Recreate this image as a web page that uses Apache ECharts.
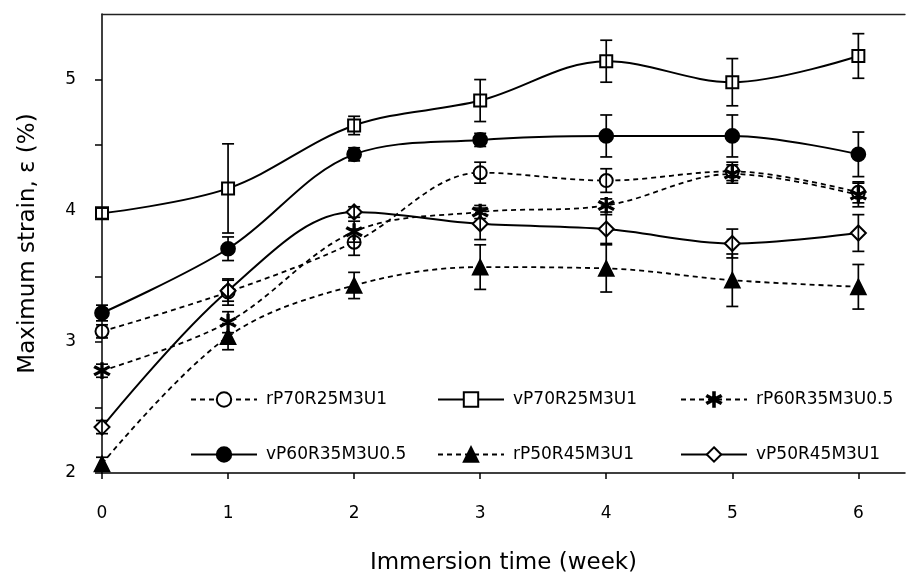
<!DOCTYPE html>
<html>
<head>
<meta charset="utf-8">
<script src="https://cdn.jsdelivr.net/npm/echarts@6/dist/echarts.min.js"></script>
<style>
  html, body { margin: 0; padding: 0; background: #fff; }
  #chart { width: 912px; height: 575px; }
</style>
</head>
<body>
<div id="chart"></div>
<script>
// Immersion time (weeks)
const weeks = [0, 1, 2, 3, 4, 5, 6];
const xTicks = [0, 1, 2, 3, 4, 5, 6];

// Mean maximum strain (%) for each mix
const rP70R25M3U1   = [3.08, 3.38, 3.76, 4.29, 4.23, 4.30, 4.14];
const vP70R25M3U1   = [3.98, 4.17, 4.65, 4.84, 5.14, 4.98, 5.18];
const rP60R35M3U0_5 = [2.78, 3.15, 3.84, 3.99, 4.04, 4.28, 4.12];
const vP60R35M3U0_5 = [3.22, 3.71, 4.43, 4.54, 4.57, 4.57, 4.43];
const rP50R45M3U1   = [2.07, 3.04, 3.43, 3.57, 3.56, 3.47, 3.42];
const vP50R45M3U1   = [2.35, 3.39, 3.99, 3.90, 3.86, 3.75, 3.83];

// Standard deviations (error bars)
const rP70R25M3U1_sd   = [0.05, 0.10, 0.10, 0.08, 0.09, 0.07, 0.08];
const vP70R25M3U1_sd   = [0.04, 0.34, 0.07, 0.16, 0.16, 0.18, 0.17];
const rP60R35M3U0_5_sd = [0.05, 0.08, 0.08, 0.05, 0.05, 0.07, 0.09];
const vP60R35M3U0_5_sd = [0.06, 0.09, 0.05, 0.05, 0.16, 0.16, 0.17];
const rP50R45M3U1_sd   = [0.05, 0.10, 0.10, 0.17, 0.18, 0.20, 0.17];
const vP50R45M3U1_sd   = [0.05, 0.08, 0.04, 0.12, 0.11, 0.11, 0.14];

const FONT = 'DejaVu Sans';
const INK = '#000';

// six-armed asterisk marker
const asterisk = 'path://M9,0L11,0L11,20L9,20Z' +
  'M1.84,4.13L19.16,14.13L18.16,15.87L0.84,5.87Z' +
  'M19.16,5.87L1.84,15.87L0.84,14.13L18.16,4.13Z';

const mixes = [
  { name: 'rP70R25M3U1',   y: rP70R25M3U1,   sd: rP70R25M3U1_sd,   dashed: true,  symbol: 'emptyCircle',   size: 13, left: 190, top: 1 },
  { name: 'vP70R25M3U1',   y: vP70R25M3U1,   sd: vP70R25M3U1_sd,   dashed: false, symbol: 'emptyRect',     size: 12, left: 437, top: 1 },
  { name: 'rP60R35M3U0.5', y: rP60R35M3U0_5, sd: rP60R35M3U0_5_sd, dashed: true,  symbol: asterisk,        size: 15, left: 680, top: 1 },
  { name: 'vP60R35M3U0.5', y: vP60R35M3U0_5, sd: vP60R35M3U0_5_sd, dashed: false, symbol: 'circle',        size: 14, left: 190, top: 2 },
  { name: 'rP50R45M3U1',   y: rP50R45M3U1,   sd: rP50R45M3U1_sd,   dashed: true,  symbol: 'triangle',      size: 15, left: 437, top: 2 },
  { name: 'vP50R45M3U1',   y: vP50R45M3U1,   sd: vP50R45M3U1_sd,   dashed: false, symbol: 'emptyDiamond',  size: 15, left: 680, top: 2 }
];

const series = [];
mixes.forEach(function (m) {
  series.push({
    name: m.name,
    type: 'line',
    data: weeks.map(function (w, i) { return [w, m.y[i]]; }),
    smooth: 0.35,
    clip: false,
    symbol: m.symbol,
    symbolSize: m.size,
    showAllSymbol: true,
    lineStyle: { color: INK, width: m.dashed ? 1.8 : 2, type: m.dashed ? [5, 4] : 'solid' },
    itemStyle: { color: INK, borderColor: INK, borderWidth: 1.7 },
    emphasis: { disabled: true },
    z: 3
  });
  // error bars drawn over the markers
  series.push({
    name: m.name + ' sd',
    type: 'custom',
    data: weeks.map(function (w, i) { return [w, m.y[i], m.sd[i]]; }),
    renderItem: function (params, api) {
      const x = api.value(0), y = api.value(1), e = api.value(2);
      const hi = api.coord([x, y + e]);
      const lo = api.coord([x, y - e]);
      const cap = 6;
      const st = { stroke: INK, lineWidth: 1.7 };
      return {
        type: 'group',
        children: [
          { type: 'line', shape: { x1: hi[0], y1: hi[1], x2: lo[0], y2: lo[1] }, style: st },
          { type: 'line', shape: { x1: hi[0] - cap, y1: hi[1], x2: hi[0] + cap, y2: hi[1] }, style: st },
          { type: 'line', shape: { x1: lo[0] - cap, y1: lo[1], x2: lo[0] + cap, y2: lo[1] }, style: st }
        ]
      };
    },
    clip: false,
    silent: true,
    z: 4
  });
});

const legends = mixes.map(function (m) {
  return {
    data: [m.name],
    left: m.left,
    top: m.top === 1 ? 391 : 446,
    padding: 0,
    itemWidth: 66,
    itemHeight: 18,
    itemGap: 0,
    selectedMode: false,
    textStyle: { fontFamily: FONT, fontSize: 17, color: INK, padding: [0, 0, 0, 4] }
  };
});

const option = {
  backgroundColor: '#fff',
  animation: false,
  legend: legends,
  grid: { left: 102, right: 7, top: 14, bottom: 102, containLabel: false, outerBoundsMode: 'none' },
  xAxis: [
    {
      type: 'value',
      min: 0,
      max: 6.37,
      name: 'Immersion time (week)',
      nameLocation: 'middle',
      nameGap: 79,
      nameTextStyle: { fontFamily: FONT, fontSize: 23, color: INK },
      axisLine: { show: true, onZero: false, lineStyle: { color: INK, width: 1.5 } },
      axisTick: { show: true, inside: false, length: 6, customValues: xTicks, lineStyle: { color: INK, width: 1.5 } },
      axisLabel: { customValues: xTicks, margin: 32, fontFamily: FONT, fontSize: 17, color: INK },
      splitLine: { show: false }
    },
    {
      type: 'value',
      position: 'top',
      min: 0,
      max: 6.37,
      axisLine: { show: true, onZero: false, lineStyle: { color: '#222', width: 1.3 } },
      axisTick: { show: false },
      axisLabel: { show: false },
      splitLine: { show: false }
    }
  ],
  yAxis: {
    type: 'value',
    min: 2,
    max: 5.5,
    interval: 0.5,
    name: 'Maximum strain, \u03b5 (%)',
    nameLocation: 'middle',
    nameGap: 62,
    nameTextStyle: { fontFamily: FONT, fontSize: 23, color: INK },
    axisLine: { show: true, onZero: false, lineStyle: { color: INK, width: 1.5 } },
    axisTick: { show: true, inside: false, length: 7, lineStyle: { color: INK, width: 1.5 } },
    axisLabel: {
      margin: 26,
      fontFamily: FONT,
      fontSize: 17,
      color: INK,
      showMaxLabel: false,
      formatter: function (v) { return Number.isInteger(v) ? String(v) : ''; }
    },
    splitLine: { show: false }
  },
  series: series
};

const chart = echarts.init(document.getElementById('chart'), null, { renderer: 'canvas' });
chart.setOption(option);
</script>
</body>
</html>
